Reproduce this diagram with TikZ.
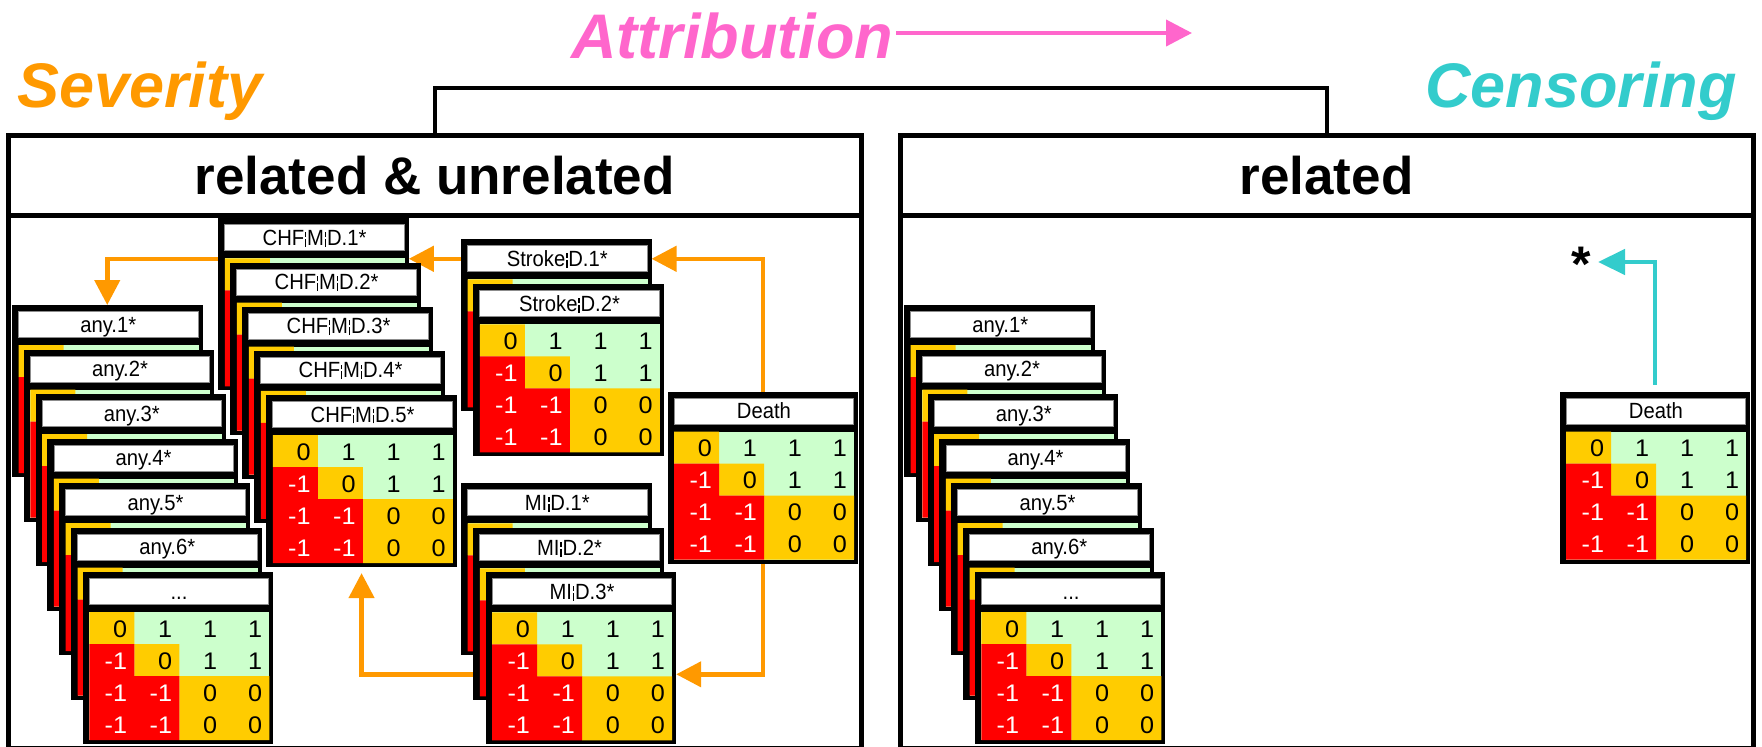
\documentclass[tikz,border=0pt]{standalone}
\usepackage{fontspec}
\setmainfont{Liberation Sans}
\newfontfamily\cardfont[FakeStretch=0.92]{Liberation Sans}
\newfontfamily\digitfont[FakeStretch=1.05]{Liberation Sans}
\usetikzlibrary{arrows.meta}

\definecolor{cgold}{HTML}{FFCC00}
\definecolor{cgreen}{HTML}{CCFFCC}
\definecolor{cred}{HTML}{FF0000}
\definecolor{sevcol}{HTML}{FF9900}
\definecolor{attcol}{HTML}{FF66CC}
\definecolor{cencol}{HTML}{33CCCC}

\pgfdeclarelayer{background}
\pgfsetlayers{background,main}

% broken bar used in the card titles
\newcommand\condbar{\kern0.8pt\rlap{\rule[8.7pt]{1.4pt}{4.6pt}}\rule[-1.3pt]{1.4pt}{8pt}\kern0.8pt}

\tikzset{
  cardbox/.style={rectangle, fill=black, minimum width=190.5pt, minimum height=172pt,
    inner sep=0pt, outer sep=0pt, anchor=north west},
  hdrslot/.style={rectangle, minimum width=190.5pt, minimum height=26pt, inner sep=0pt, outer sep=0pt},
  cardtxt/.style={anchor=base, inner sep=0pt, font=\cardfont\fontsize{22}{22}\selectfont},
  digit/.style={anchor=base east, inner sep=0pt, font=\digitfont\fontsize{24}{24}\selectfont},
  panel/.style={rectangle, draw=black, line width=5pt, inner sep=0pt, outer sep=0pt,
    font=\fontsize{53}{53}\selectfont\bfseries},
  title/.style={inner sep=0pt, anchor=base west, font=\fontsize{63}{63}\selectfont\bfseries\itshape},
  oarrow/.style={draw=sevcol, line width=4.5pt, -{Triangle[length=25pt,width=25pt]}},
  attarrow/.style={draw=attcol, line width=4pt, -{Triangle[length=26pt,width=26pt]}},
  carrow/.style={draw=cencol, line width=4.5pt, -{Triangle[length=27pt,width=25pt]}}
}

% one transition-matrix card: name, x, y, title
\newcommand\mcard[4]{%
  \node[cardbox] (#1) at (#2,#3) {};
  \begin{scope}[shift={(#1.north west)}]
    \node[hdrslot] (#1h) at (95.25,19.5) {};
    \filldraw[fill=white, draw=black!45, line width=0.8pt] (6.5,6.5) rectangle (186,32.5);
    \node[cardtxt] at (96.25,27) {#4};
    \fill[cgreen] (6.5,40) rectangle (186.5,168);
    \fill[cgold] (6.5,40) rectangle (51.5,72) (51.5,72) rectangle (96.5,104)
                 (96.5,104) rectangle (186.5,168);
    \fill[cred] (6.5,72) rectangle (51.5,104) (6.5,104) rectangle (96.5,168);
  \end{scope}}

% the matrix entries, written on the front card of a stack only
\newcommand\mvalues[1]{%
  \begin{scope}[shift={(#1.north west)}]
    \foreach \c/\r/\v/\t in {1/1/0/black, 2/1/1/black, 3/1/1/black, 4/1/1/black,
                             1/2/-1/white, 2/2/0/black, 3/2/1/black, 4/2/1/black,
                             1/3/-1/white, 2/3/-1/white, 3/3/0/black, 4/3/0/black,
                             1/4/-1/white, 2/4/-1/white, 3/4/0/black, 4/4/0/black}
      \node[digit, text=\t] at ({6.5+45*\c-7},{33+32*\r}) {\v};
  \end{scope}}

\begin{document}
\begin{tikzpicture}[x=1pt, y=-1pt]
\useasboundingbox (0,0) rectangle (1762,747);

% titles
\node[title, text=sevcol] (sev) at (17,107) {Severity};
\node[title, text=attcol] (att) at (571,58) {Attribution};
\node[title, text=cencol] (cen) at (1425,107) {Censoring};
\coordinate (attEnd) at (1192,33);
\draw[attarrow] ([xshift=3pt,yshift=25pt]att.base east) -- (attEnd);

% the two panels
\node[panel, minimum width=852.5pt, minimum height=79.7pt] (hdrL) at (434.75,175.65) {related \& unrelated};
\node[panel, minimum width=853pt, minimum height=79.7pt] (hdrR) at (1326.5,175.65) {related};
\node[panel, minimum width=852.5pt, minimum height=532.5pt] (bodyL) at (434.75,481.75) {};
\node[panel, minimum width=853pt, minimum height=532.5pt] (bodyR) at (1326.5,481.75) {};
\draw[line width=4pt] (hdrL.north) -- ++(0,-47.8) -| (hdrR.north);

% left panel: all-cause stack
\mcard{any1}{12}{305}{any.1*}
\mcard{any2}{23.8}{349.5}{any.2*}
\mcard{any3}{35.6}{394}{any.3*}
\mcard{any4}{47.4}{438.5}{any.4*}
\mcard{any5}{59.2}{483}{any.5*}
\mcard{any6}{71}{527.5}{any.6*}
\mcard{any7}{82.8}{572}{...}
\mvalues{any7}

% CHF stack
\mcard{chf1}{218.3}{218.3}{CHF\condbar M\condbar D.1*}
\mcard{chf2}{230.3}{262.5}{CHF\condbar M\condbar D.2*}
\mcard{chf3}{242.3}{306.7}{CHF\condbar M\condbar D.3*}
\mcard{chf4}{254.3}{350.9}{CHF\condbar M\condbar D.4*}
\mcard{chf5}{266.3}{395.1}{CHF\condbar M\condbar D.5*}
\mvalues{chf5}

% stroke and MI stacks
\mcard{stroke1}{461}{239.3}{Stroke\condbar D.1*}
\mcard{stroke2}{473.3}{284.3}{Stroke\condbar D.2*}
\mvalues{stroke2}
\mcard{mi1}{461}{483.3}{MI\condbar D.1*}
\mcard{mi2}{473.3}{528.3}{MI\condbar D.2*}
\mcard{mi3}{485.7}{572.3}{MI\condbar D.3*}
\mvalues{mi3}

% death
\mcard{deathL}{667.7}{391.7}{Death}
\mvalues{deathL}

% right panel
\mcard{rany1}{904}{305}{any.1*}
\mcard{rany2}{915.8}{349.5}{any.2*}
\mcard{rany3}{927.6}{394}{any.3*}
\mcard{rany4}{939.4}{438.5}{any.4*}
\mcard{rany5}{951.2}{483}{any.5*}
\mcard{rany6}{963}{527.5}{any.6*}
\mcard{rany7}{974.8}{572}{...}
\mvalues{rany7}
\mcard{deathR}{1559.7}{391.7}{Death}
\mvalues{deathR}

\node[inner sep=0pt, anchor=base, font=\fontsize{50}{50}\selectfont\bfseries] (star) at (1581,281) {*};
\coordinate (starTip) at (1598,262);

% connectors, kept beneath the cards
\begin{pgfonlayer}{background}
  \fill[white] (0,0) rectangle (1762,747);
  \draw[oarrow] (deathL.north) |- (stroke1h.east);
  \path ([yshift=-16pt]mi3.east) coordinate (loopR);
  \draw[oarrow] (deathL.south) |- (loopR);
  \draw[oarrow] (stroke1h.west) -- (stroke1h.west -| chf1.east);
  \draw[oarrow] (chf1.west |- stroke1h.west) -| (any1.north);
  \draw[oarrow, shorten >=6pt] (loopR -| mi2.west) -| (chf5.south);
  \draw[carrow, shorten <=7pt] (deathR.north) |- (starTip);
\end{pgfonlayer}
\end{tikzpicture}
\end{document}
